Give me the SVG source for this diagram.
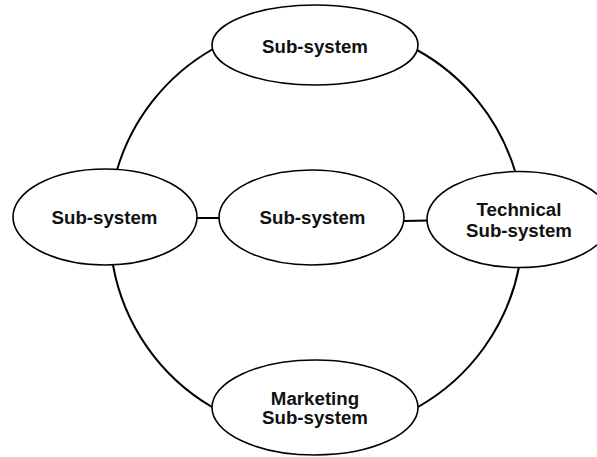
<svg xmlns="http://www.w3.org/2000/svg" width="597" height="457" viewBox="0 0 597 457">
<style>
.node ellipse{fill:#fff;stroke:#000;stroke-width:1.6}
.node text{font-family:"Liberation Sans",Arial,sans-serif;font-weight:bold;font-size:18.7px;fill:#111;text-anchor:middle}
.conn path{fill:none;stroke:#000;stroke-width:2}
</style>
<rect width="597" height="457" fill="#fff"/>
<g id="connectors" class="conn">
<path d="M213,49 A207,207 0 0 0 117,170"/>
<path d="M417,50 A207,207 0 0 1 515,171"/>
<path d="M113,265 A207,207 0 0 0 212,407"/>
<path d="M519,267 A207,207 0 0 1 418,407"/>
<path d="M197,218 L219,218"/>
<path d="M404,221 L428,220.5"/>
</g>
<g id="top" class="node">
<ellipse cx="315" cy="45" rx="103" ry="40"/>
<text x="315" y="53">Sub-system</text>
</g>
<g id="left" class="node">
<ellipse cx="105" cy="217" rx="92" ry="48"/>
<text x="104.5" y="224.3">Sub-system</text>
</g>
<g id="center" class="node">
<ellipse cx="311.5" cy="217.5" rx="92.5" ry="47.5"/>
<text x="312.5" y="224">Sub-system</text>
</g>
<g id="technical" class="node">
<ellipse cx="519" cy="219.5" rx="92" ry="48"/>
<text x="519" y="216">Technical</text>
<text x="519" y="236.7">Sub-system</text>
</g>
<g id="marketing" class="node">
<ellipse cx="315" cy="407.5" rx="103" ry="47.5"/>
<text x="315" y="405">Marketing</text>
<text x="315" y="424.3">Sub-system</text>
</g>
</svg>
